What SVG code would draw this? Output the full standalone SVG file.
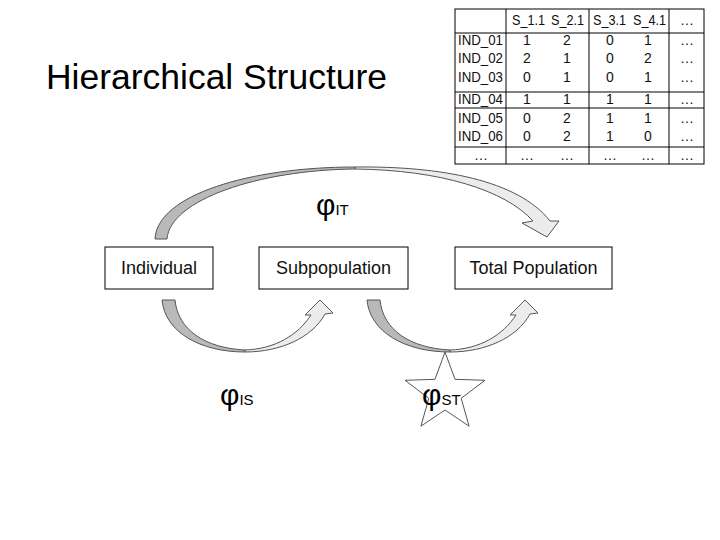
<svg xmlns="http://www.w3.org/2000/svg" width="720" height="540" viewBox="0 0 720 540">
<style>
.t{font-family:"Liberation Sans",Arial,sans-serif;fill:#000}
.box{fill:#fff;stroke:#000;stroke-width:1}
.lbl{font-family:"Liberation Sans",Arial,sans-serif;font-size:18px;fill:#111;text-anchor:middle}
.cell{font-family:"Liberation Sans",Arial,sans-serif;font-size:14px;fill:#111;text-anchor:middle}
.rowh{font-family:"Liberation Sans",Arial,sans-serif;font-size:14px;fill:#111}
.hd{font-family:"Liberation Sans",Arial,sans-serif;font-size:14px;fill:#111}
.grid{stroke:#000;stroke-width:1;fill:none}
.dark{fill:#b9b9b9;stroke:#555;stroke-width:1}
.light{fill:#ececec;stroke:#555;stroke-width:1}
.phi{font-family:"Liberation Sans",Arial,sans-serif;font-size:30px;fill:#000}
.sub{font-size:15px}
</style>
<rect width="720" height="540" fill="#fff"/>
<text class="t" x="46" y="89" font-size="35" textLength="341" lengthAdjust="spacingAndGlyphs">Hierarchical Structure</text>

<g id="table">
<rect class="grid" x="455" y="9" width="249" height="155"/>
<line class="grid" x1="455" y1="33" x2="704" y2="33"/>
<line class="grid" x1="455" y1="92" x2="704" y2="92"/>
<line class="grid" x1="455" y1="108" x2="704" y2="108"/>
<line class="grid" x1="455" y1="147" x2="704" y2="147"/>
<line class="grid" x1="506" y1="9" x2="506" y2="164"/>
<line class="grid" x1="589" y1="9" x2="589" y2="164"/>
<line class="grid" x1="669" y1="9" x2="669" y2="164"/>
<text class="hd" x="512" y="25" textLength="33" lengthAdjust="spacingAndGlyphs">S_1.1</text>
<text class="hd" x="551" y="25" textLength="33" lengthAdjust="spacingAndGlyphs">S_2.1</text>
<text class="hd" x="593" y="25" textLength="33" lengthAdjust="spacingAndGlyphs">S_3.1</text>
<text class="hd" x="633" y="25" textLength="33" lengthAdjust="spacingAndGlyphs">S_4.1</text>
<text class="cell" x="687" y="25">…</text>
<text class="rowh" x="458" y="45" textLength="45" lengthAdjust="spacingAndGlyphs">IND_01</text>
<text class="rowh" x="458" y="63" textLength="45" lengthAdjust="spacingAndGlyphs">IND_02</text>
<text class="rowh" x="458" y="82" textLength="45" lengthAdjust="spacingAndGlyphs">IND_03</text>
<text class="rowh" x="458" y="104" textLength="45" lengthAdjust="spacingAndGlyphs">IND_04</text>
<text class="rowh" x="458" y="123" textLength="45" lengthAdjust="spacingAndGlyphs">IND_05</text>
<text class="rowh" x="458" y="141" textLength="45" lengthAdjust="spacingAndGlyphs">IND_06</text>
<text class="cell" y="45"><tspan x="527">1</tspan><tspan x="567">2</tspan><tspan x="610">0</tspan><tspan x="648">1</tspan><tspan x="687">…</tspan></text>
<text class="cell" y="63"><tspan x="527">2</tspan><tspan x="567">1</tspan><tspan x="610">0</tspan><tspan x="648">2</tspan><tspan x="687">…</tspan></text>
<text class="cell" y="82"><tspan x="527">0</tspan><tspan x="567">1</tspan><tspan x="610">0</tspan><tspan x="648">1</tspan><tspan x="687">…</tspan></text>
<text class="cell" y="104"><tspan x="527">1</tspan><tspan x="567">1</tspan><tspan x="610">1</tspan><tspan x="648">1</tspan><tspan x="687">…</tspan></text>
<text class="cell" y="123"><tspan x="527">0</tspan><tspan x="567">2</tspan><tspan x="610">1</tspan><tspan x="648">1</tspan><tspan x="687">…</tspan></text>
<text class="cell" y="141"><tspan x="527">0</tspan><tspan x="567">2</tspan><tspan x="610">1</tspan><tspan x="648">0</tspan><tspan x="687">…</tspan></text>
<text class="cell" y="160"><tspan x="481">…</tspan><tspan x="527">…</tspan><tspan x="567">…</tspan><tspan x="610">…</tspan><tspan x="648">…</tspan><tspan x="687">…</tspan></text>
</g>

<g id="connectors">
<g id="arrow-IT">
<path class="dark" d="M155 239 C157 195 250 167 355 167 L355 169 C258 170 170 200 167 239 Z"/>
<path class="light" d="M355 167 C440 166 518 180 550 221 L559 221 L547 237 L522 223 L533 221 C505 190 440 170 355 169 Z"/>
</g>
<g id="arrow-IS">
<path class="dark" d="M162 300 C165 332 200 352 245 352 L245 350 C205 348 178 330 175 300 Z"/>
<path class="light" d="M245 352 C280 352 312 338 325 314 L333 313 L320 300 L305 315 L311 315 C298 335 275 349 245 350 Z"/>
</g>
<g id="arrow-ST" transform="translate(205,0)">
<path class="dark" d="M162 300 C165 332 200 352 245 352 L245 350 C205 348 178 330 175 300 Z"/>
<path class="light" d="M245 352 C280 352 312 338 325 314 L333 313 L320 300 L305 315 L311 315 C298 335 275 349 245 350 Z"/>
</g>
</g>

<g id="individual">
<rect class="box" x="105" y="247" width="108" height="42"/>
<text class="lbl" x="159" y="274">Individual</text>
</g>
<g id="subpopulation">
<rect class="box" x="259" y="247" width="149" height="42"/>
<text class="lbl" x="333.5" y="274">Subpopulation</text>
</g>
<g id="total">
<rect class="box" x="455" y="247" width="157" height="42"/>
<text class="lbl" x="533.5" y="274">Total Population</text>
</g>

<g id="phi-IT">
<text class="phi" x="316" y="215">φ<tspan class="sub">IT</tspan></text>
</g>
<g id="phi-IS">
<text class="phi" x="220" y="405">φ<tspan class="sub">IS</tspan></text>
</g>
<g id="phi-ST">
<polygon points="445,352 455,379.3 485,380.3 461.2,398.3 469.1,426.2 445,410 420.9,426.2 428.8,398.3 405,380.3 435,379.3" fill="#fff" stroke="#555" stroke-width="1"/>
<text class="phi" x="422" y="405">φ<tspan class="sub">ST</tspan></text>
</g>
</svg>
